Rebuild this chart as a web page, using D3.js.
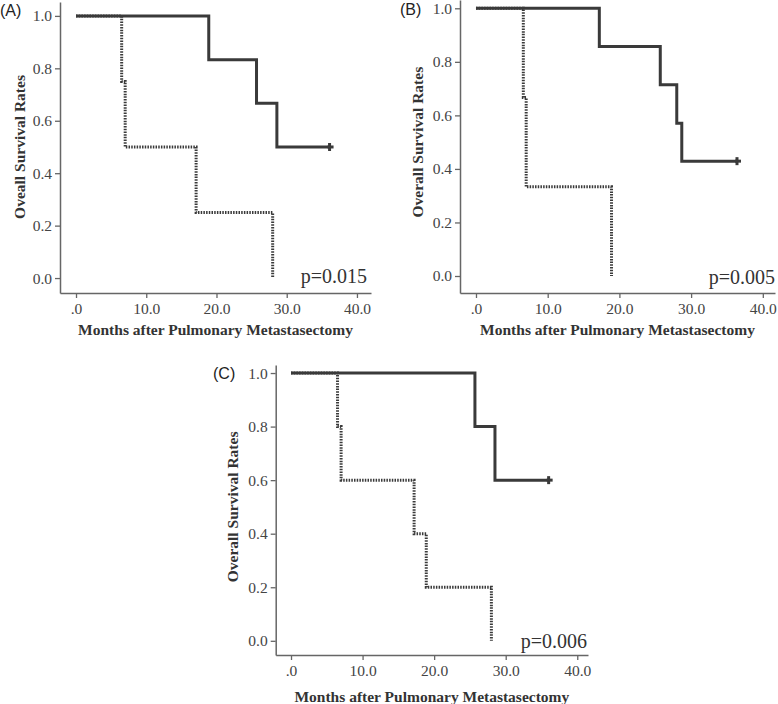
<!DOCTYPE html>
<html>
<head>
<meta charset="utf-8">
<script src="https://cdn.jsdelivr.net/npm/d3@7"></script>
<style>
  html, body { margin: 0; padding: 0; background: #fff; }
  svg { display: block; }
</style>
</head>
<body>
<svg id="chart" width="778" height="704"></svg>
<script>
// ---------------- DATA ----------------
const panelLabels = ["(A)", "(B)", "(C)"];
const yTitles = ["Oveall Survival Rates", "Overall Survival Rates", "Overall Survival Rates"];
const xTitle = "Months after Pulmonary Metastasectomy";
const pValues = ["p=0.015", "p=0.005", "p=0.006"];

const xTickValues = [0, 10, 20, 30, 40];
const xTickLabels = [".0", "10.0", "20.0", "30.0", "40.0"];
const yTickValues = [0, 0.2, 0.4, 0.6, 0.8, 1.0];
const yTickLabels = ["0.0", "0.2", "0.4", "0.6", "0.8", "1.0"];

// Panel A
const aSolidTimes = [0, 18.9, 25.7, 28.6];
const aSolidSurv  = [1.0, 0.833, 0.667, 0.5];
const aSolidCensor = 36.1;
const aDotTimes = [0, 6.5, 7.0, 17.1, 28.0];
const aDotSurv  = [1.0, 0.75, 0.5, 0.25, 0.0];

// Panel B
const bSolidTimes = [0, 17.2, 25.7, 28.0, 28.7];
const bSolidSurv  = [1.0, 0.857, 0.714, 0.571, 0.429];
const bSolidCensor = 36.4;
const bDotTimes = [0, 6.6, 7.0, 18.9];
const bDotSurv  = [1.0, 0.667, 0.333, 0.0];

// Panel C
const cSolidTimes = [0, 25.7, 28.5];
const cSolidSurv  = [1.0, 0.8, 0.6];
const cSolidCensor = 36.0;
const cDotTimes = [0, 6.5, 7.0, 17.2, 18.9, 28.0];
const cDotSurv  = [1.0, 0.8, 0.6, 0.4, 0.2, 0.0];

// ---------------- LAYOUT ----------------
const layouts = [
  { xDom: [-2.28, 42.0], xRange: [60, 371], yDom: [-0.057, 1.053], yRange: [293, 2],
    label: [0, 16], yTitleX: 25, xTitleY: 335, pos: [367, 283] },
  { xDom: [-2.23, 41.7], xRange: [460, 775], yDom: [-0.0635, 1.031], yRange: [293, 0],
    label: [400, 15], yTitleX: 423, xTitleY: 335, pos: [775, 284] },
  { xDom: [-2.14, 41.5], xRange: [275.7, 588], yDom: [-0.053, 1.03], yRange: [655, 365],
    label: [213, 379], yTitleX: 238, xTitleY: 702, pos: [587, 648] }
];

const series = [
  { solid: [aSolidTimes, aSolidSurv, aSolidCensor], dot: [aDotTimes, aDotSurv] },
  { solid: [bSolidTimes, bSolidSurv, bSolidCensor], dot: [bDotTimes, bDotSurv] },
  { solid: [cSolidTimes, cSolidSurv, cSolidCensor], dot: [cDotTimes, cDotSurv] }
];

const svg = d3.select("#chart");
const serif = "'Liberation Serif', 'Times New Roman', serif";
const sans = "'Liberation Sans', Arial, sans-serif";

layouts.forEach((L, i) => {
  const g = svg.append("g");
  const x = d3.scaleLinear().domain(L.xDom).range(L.xRange);
  const y = d3.scaleLinear().domain(L.yDom).range(L.yRange);

  // axes
  const xAxis = d3.axisBottom(x).tickValues(xTickValues)
    .tickFormat((d, k) => xTickLabels[k]).tickSize(5).tickSizeOuter(0).tickPadding(5);
  const yAxis = d3.axisLeft(y).tickValues(yTickValues)
    .tickFormat((d, k) => yTickLabels[k]).tickSize(5).tickSizeOuter(0).tickPadding(3);

  const gx = g.append("g").attr("transform", `translate(0,${L.yRange[0]})`).call(xAxis);
  const gy = g.append("g").attr("transform", `translate(${L.xRange[0]},0)`).call(yAxis);
  [gx, gy].forEach(a => {
    a.select(".domain").attr("stroke", "#666").attr("stroke-width", 1.5);
    a.selectAll(".tick line").attr("stroke", "#666").attr("stroke-width", 1.3);
    a.selectAll(".tick text").attr("fill", "#444").style("font-family", serif).style("font-size", "15.5px");
  });

  // step lines
  const line = d3.line().x(d => x(d[0])).y(d => y(d[1])).curve(d3.curveStepAfter);
  const s = series[i];
  const solidPts = s.solid[0].map((t, k) => [t, s.solid[1][k]]);
  solidPts.push([s.solid[2], s.solid[1][s.solid[1].length - 1]]);
  const dotPts = s.dot[0].map((t, k) => [t, s.dot[1][k]]);

  g.append("path").datum(solidPts).attr("d", line)
    .attr("fill", "none").attr("stroke", "#3a3a3a").attr("stroke-width", 3);
  // censor mark
  const cx = x(s.solid[2]), cy = y(s.solid[1][s.solid[1].length - 1]);
  g.append("line").attr("x1", cx).attr("x2", cx).attr("y1", cy - 4).attr("y2", cy + 4)
    .attr("stroke", "#3a3a3a").attr("stroke-width", 3);
  g.append("line").attr("x1", cx - 2).attr("x2", cx + 4).attr("y1", cy).attr("y2", cy)
    .attr("stroke", "#3a3a3a").attr("stroke-width", 3);

  g.append("path").datum(dotPts).attr("d", line)
    .attr("fill", "none").attr("stroke", "#3a3a3a").attr("stroke-width", 3)
    .attr("stroke-dasharray", "1.5,1.2");

  // texts
  g.append("text").attr("x", L.label[0]).attr("y", L.label[1])
    .style("font-family", sans).style("font-size", "16px").attr("fill", "#222")
    .text(panelLabels[i]);

  g.append("text")
    .attr("transform", `translate(${L.yTitleX},${(y(0) + y(1)) / 2}) rotate(-90)`)
    .attr("text-anchor", "middle")
    .style("font-family", serif).style("font-size", "15.5px").style("font-weight", "bold")
    .attr("fill", "#333").text(yTitles[i]);

  g.append("text").attr("x", (L.xRange[0] + L.xRange[1]) / 2).attr("y", L.xTitleY)
    .attr("text-anchor", "middle")
    .style("font-family", serif).style("font-size", "15.5px").style("font-weight", "bold")
    .attr("fill", "#333").text(xTitle);

  g.append("text").attr("x", L.pos[0]).attr("y", L.pos[1])
    .attr("text-anchor", "end")
    .style("font-family", serif).style("font-size", "20px")
    .attr("fill", "#333").text(pValues[i]);
});
</script>
</body>
</html>
